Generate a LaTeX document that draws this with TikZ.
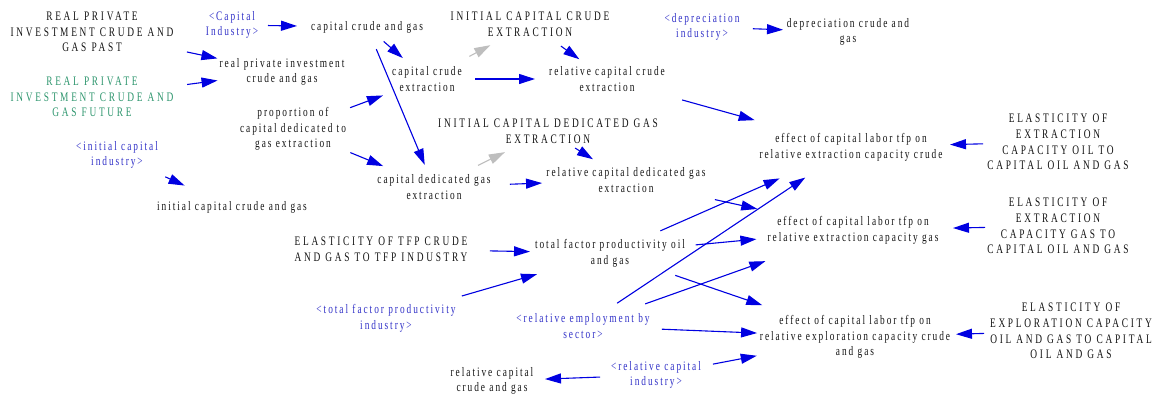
\documentclass[tikz,border=0pt]{standalone}
\usepackage{fontspec}
\setmainfont{Liberation Serif}[FakeStretch=0.72, LetterSpace=15]
\newfontfamily\capsfont{Liberation Serif}[FakeStretch=0.72, LetterSpace=21]
\usetikzlibrary{arrows.meta}
\definecolor{vblue}{RGB}{0,0,225}
\definecolor{tblue}{RGB}{50,50,200}
\definecolor{tgreen}{RGB}{46,150,110}
\definecolor{tblack}{RGB}{20,20,20}
\definecolor{vgray}{RGB}{190,190,190}
\tikzset{
  var/.style={align=center, inner sep=0pt, text=tblack, font=\fontsize{13}{15.7}\selectfont},
  cvar/.style={var, font=\capsfont\fontsize{13}{15.7}\selectfont},
  shadowvar/.style={var, text=tblue},
  gvar/.style={cvar, text=tgreen},
  arr/.style={draw=vblue, line width=1.1pt, -{Triangle[length=16pt,width=10pt]}},
  garr/.style={arr, draw=vgray},
}
\newcommand\lnk[5][arr]{\draw[#1, shorten <=#4pt, shorten >=#5pt] (#2.center) -- (#3.center);}
\begin{document}
\begin{tikzpicture}[x=1pt, y=-1pt]
\useasboundingbox[fill=white] (0,0) rectangle (1157,397);
\node[cvar] (past) at (92,32) {REAL PRIVATE\\INVESTMENT CRUDE AND\\GAS PAST};
\node[gvar] (future) at (92,97) {REAL PRIVATE\\INVESTMENT CRUDE AND\\GAS FUTURE};
\node[shadowvar] (capind) at (232,25) {<Capital\\Industry>};
\node[var] (ccg) at (367,27) {capital crude and gas};
\node[var] (rpi) at (282,72) {real private investment\\crude and gas};
\node[var] (prop) at (293,129) {proportion of\\capital dedicated to\\gas extraction};
\node[shadowvar] (initind) at (117,155) {<initial capital\\industry>};
\node[var] (iccg) at (232,207) {initial capital crude and gas};
\node[cvar] (icce) at (530,24) {INITIAL CAPITAL CRUDE\\EXTRACTION};
\node[var] (cce) at (427,79) {capital crude\\extraction};
\node[var] (rcce) at (607,79) {relative capital crude\\extraction};
\node[shadowvar] (depind) at (702,27) {<depreciation\\industry>};
\node[var] (dcg) at (848,32) {depreciation crude and\\gas};
\node[cvar] (icdg) at (548,131) {INITIAL CAPITAL DEDICATED GAS\\EXTRACTION};
\node[var] (cdg) at (434,187) {capital dedicated gas\\extraction};
\node[var] (rcdg) at (626,180) {relative capital dedicated gas\\extraction};
\node[var] (effc) at (851,147) {effect of capital labor tfp on\\relative extraction capacity crude};
\node[cvar] (elo) at (1058,142) {ELASTICITY OF\\EXTRACTION\\CAPACITY OIL TO\\CAPITAL OIL AND GAS};
\node[var] (effg) at (853,230) {effect of capital labor tfp on\\relative extraction capacity gas};
\node[cvar] (elg) at (1058,226) {ELASTICITY OF\\EXTRACTION\\CAPACITY GAS TO\\CAPITAL OIL AND GAS};
\node[cvar] (eltfp) at (381,249) {ELASTICITY OF TFP CRUDE\\AND GAS TO TFP INDUSTRY};
\node[var] (tfp) at (610,253) {total factor productivity oil\\and gas};
\node[shadowvar] (tfpind) at (386,318) {<total factor productivity\\industry>};
\node[shadowvar] (relemp) at (583,326) {<relative employment by\\sector>};
\node[var] (effx) at (855,337) {effect of capital labor tfp on\\relative exploration capacity crude\\and gas};
\node[cvar] (elx) at (1071,331) {ELASTICITY OF\\EXPLORATION CAPACITY\\OIL AND GAS TO CAPITAL\\OIL AND GAS};
\node[shadowvar] (relcapind) at (656,375) {<relative capital\\industry>};
\node[var] (rccg) at (492,381) {relative capital\\crude and gas};
\lnk{past}{rpi}{97}{66}
\lnk{future}{rpi}{96}{65}
\lnk{capind}{ccg}{36}{70}
\lnk{ccg}{cce}{22}{32}
\lnk{ccg}{cdg}{24}{24}
\lnk{prop}{cce}{61}{47}
\lnk{prop}{cdg}{62}{55}
\lnk[garr]{cce}{icce}{48}{45}
\lnk{icce}{rcce}{38}{34}
\lnk{cce}{rcce}{48}{72}
\lnk{depind}{dcg}{51}{65}
\lnk{rcce}{effc}{78}{100}
\lnk[garr]{cdg}{icdg}{49}{48}
\lnk{icdg}{rcdg}{32}{39}
\lnk{cdg}{rcdg}{76}{84}
\lnk{rcdg}{effg}{91}{98}
\lnk{elo}{effc}{75}{99}
\lnk{elg}{effg}{73}{100}
\lnk{elx}{effx}{87}{101}
\lnk{eltfp}{tfp}{109}{80}
\lnk{tfpind}{tfp}{79}{76}
\lnk{tfp}{effc}{55}{78}
\lnk{tfp}{effg}{86}{97}
\lnk{tfp}{effx}{69}{98}
\lnk{relemp}{effc}{41}{55}
\lnk{relemp}{effg}{66}{93}
\lnk{relemp}{effx}{79}{98}
\lnk{relcapind}{effx}{58}{100}
\lnk{relcapind}{rccg}{56}{53}
\lnk{initind}{iccg}{53}{52}
\end{tikzpicture}
\end{document}
